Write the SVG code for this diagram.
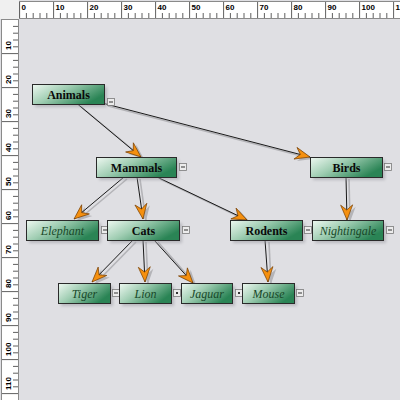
<svg xmlns="http://www.w3.org/2000/svg" width="400" height="400" viewBox="0 0 400 400">
<defs>
<style>
.rul{fill:#ffffff;stroke:#8a8a8a;stroke-width:1}
.maj{stroke:#606060;stroke-width:1;fill:none}
.min{stroke:#606060;stroke-width:1;fill:none}
.rl{font-family:"Liberation Sans",Arial,sans-serif;font-size:8px;font-weight:bold;fill:#000}
.box{fill:url(#g);stroke:#2a2a2a;stroke-width:1}
.shd{fill:#9a9aa0;opacity:0.55;filter:url(#blur)}
.pt{font-family:"Liberation Serif","Times New Roman",serif;font-size:12px;font-weight:bold;fill:#0a0a0a;text-anchor:middle}
.lt{font-family:"Liberation Serif","Times New Roman",serif;font-size:12px;font-style:italic;fill:#184828;text-anchor:middle}
.tg{fill:#ececec;stroke:#7a7a7a;stroke-width:0.8}
.tgm{stroke:#333;stroke-width:1}
.ln{stroke:#1a1a1a;stroke-width:1;fill:none;marker-end:url(#ah)}
.ls{stroke:#b4b4b8;stroke-width:1.6;fill:none;marker-end:url(#ahs)}
</style>
<linearGradient id="g" x1="0" y1="0" x2="1" y2="0.5">
<stop offset="0" stop-color="#eef8f1"/>
<stop offset="0.45" stop-color="#9fcdb2"/>
<stop offset="1" stop-color="#2a8455"/>
</linearGradient>
<filter id="blur" x="-20%" y="-40%" width="140%" height="180%"><feGaussianBlur stdDeviation="1.5"/></filter>
<marker id="ah" viewBox="-17 -8 18 16" refX="0" refY="0" markerWidth="18" markerHeight="16" markerUnits="userSpaceOnUse" orient="auto">
<path d="M0,0 L-15,-6 L-10,0 L-15,6 Z" fill="#f5900f" stroke="#7a4000" stroke-width="0.7" stroke-linejoin="round"/>
</marker>
<marker id="ahs" viewBox="-17 -8 18 16" refX="0" refY="0" markerWidth="18" markerHeight="16" markerUnits="userSpaceOnUse" orient="auto">
<path d="M0,0 L-15,-6 L-10,0 L-15,6 Z" fill="#b4b4b8"/>
</marker>
</defs>

<rect x="0" y="0" width="400" height="400" fill="#dfdfe3"/>

<g id="rulers">
<rect x="0" y="0" width="19" height="19" fill="#f0f0f0"/>
<rect class="rul" x="19.5" y="1.5" width="381" height="17"/>
<rect class="rul" x="1.5" y="19.5" width="17" height="381"/>
<path class="maj" d="M19.6,2V18M53.6,2V18M87.6,2V18M121.6,2V18M155.6,2V18M189.6,2V18M223.6,2V18M257.6,2V18M291.6,2V18M325.6,2V18M359.6,2V18M393.6,2V18"/>
<path class="min" d="M26.4,13V18M33.2,13V18M40,13V18M46.8,13V18M60.4,13V18M67.2,13V18M74,13V18M80.8,13V18M94.4,13V18M101.2,13V18M108,13V18M114.8,13V18M128.4,13V18M135.2,13V18M142,13V18M148.8,13V18M162.4,13V18M169.2,13V18M176,13V18M182.8,13V18M196.4,13V18M203.2,13V18M210,13V18M216.8,13V18M230.4,13V18M237.2,13V18M244,13V18M250.8,13V18M264.4,13V18M271.2,13V18M278,13V18M284.8,13V18M298.4,13V18M305.2,13V18M312,13V18M318.8,13V18M332.4,13V18M339.2,13V18M346,13V18M352.8,13V18M366.4,13V18M373.2,13V18M380,13V18M386.8,13V18"/>
<path class="maj" d="M2,53.6H18M2,87.6H18M2,121.6H18M2,155.6H18M2,189.6H18M2,223.6H18M2,257.6H18M2,291.6H18M2,325.6H18M2,359.6H18M2,393.6H18"/>
<path class="min" d="M13,26.4H18M13,33.2H18M13,40H18M13,46.8H18M13,60.4H18M13,67.2H18M13,74H18M13,80.8H18M13,94.4H18M13,101.2H18M13,108H18M13,114.8H18M13,128.4H18M13,135.2H18M13,142H18M13,148.8H18M13,162.4H18M13,169.2H18M13,176H18M13,182.8H18M13,196.4H18M13,203.2H18M13,210H18M13,216.8H18M13,230.4H18M13,237.2H18M13,244H18M13,250.8H18M13,264.4H18M13,271.2H18M13,278H18M13,284.8H18M13,298.4H18M13,305.2H18M13,312H18M13,318.8H18M13,332.4H18M13,339.2H18M13,346H18M13,352.8H18M13,366.4H18M13,373.2H18M13,380H18M13,386.8H18"/>
<text class="rl" x="21.5" y="9.5">0</text>
<text class="rl" x="55.5" y="9.5">10</text>
<text class="rl" x="89.5" y="9.5">20</text>
<text class="rl" x="123.5" y="9.5">30</text>
<text class="rl" x="157.5" y="9.5">40</text>
<text class="rl" x="191.5" y="9.5">50</text>
<text class="rl" x="225.5" y="9.5">60</text>
<text class="rl" x="259.5" y="9.5">70</text>
<text class="rl" x="293.5" y="9.5">80</text>
<text class="rl" x="327.5" y="9.5">90</text>
<text class="rl" x="361.5" y="9.5">100</text>
<text class="rl" x="395.5" y="9.5">110</text>
<text class="rl" transform="translate(10.5,50) rotate(-90)">10</text>
<text class="rl" transform="translate(10.5,84) rotate(-90)">20</text>
<text class="rl" transform="translate(10.5,118) rotate(-90)">30</text>
<text class="rl" transform="translate(10.5,152) rotate(-90)">40</text>
<text class="rl" transform="translate(10.5,186) rotate(-90)">50</text>
<text class="rl" transform="translate(10.5,220) rotate(-90)">60</text>
<text class="rl" transform="translate(10.5,254) rotate(-90)">70</text>
<text class="rl" transform="translate(10.5,288) rotate(-90)">80</text>
<text class="rl" transform="translate(10.5,322) rotate(-90)">90</text>
<text class="rl" transform="translate(10.5,356) rotate(-90)">100</text>
<text class="rl" transform="translate(10.5,390) rotate(-90)">110</text>
</g>

<g id="connectors">
<path class="ls" d="M80,106 L144,159"/>
<path class="ls" d="M108,106 L313,159"/>
<path class="ls" d="M127,179 L77,221"/>
<path class="ls" d="M140,179 L146,221"/>
<path class="ls" d="M160,179 L250,222"/>
<path class="ls" d="M349,179 L350,222"/>
<path class="ls" d="M136,242 L95,284"/>
<path class="ls" d="M146,242 L148,284"/>
<path class="ls" d="M158,242 L196,285"/>
<path class="ls" d="M269,242 L271,284"/>
<path class="ln" d="M77.5,104 L141,157"/>
<path class="ln" d="M104,103.5 L310,157"/>
<path class="ln" d="M124,177 L74,219"/>
<path class="ln" d="M137,177 L143,219"/>
<path class="ln" d="M157,177 L247,220"/>
<path class="ln" d="M346,177 L347,220"/>
<path class="ln" d="M133,240 L92,282"/>
<path class="ln" d="M143,240 L145,282"/>
<path class="ln" d="M154,240 L193,283"/>
<path class="ln" d="M265,240 L268,282"/>
</g>

<g id="n-animals">
<rect class="shd" x="35" y="87" width="72" height="20"/>
<rect class="box" x="32.5" y="84.5" width="72" height="20"/>
<text class="pt" x="68.5" y="98.5">Animals</text>
<rect class="tg" x="107.5" y="98.5" width="7" height="7"/><path class="tgm" d="M109,102H113"/>
</g>
<g id="n-mammals">
<rect class="shd" x="99" y="160" width="80" height="20"/>
<rect class="box" x="96.5" y="157.5" width="80" height="20"/>
<text class="pt" x="136.5" y="171.5">Mammals</text>
<rect class="tg" x="179.5" y="163.5" width="7" height="7"/><path class="tgm" d="M181,167H185"/>
</g>
<g id="n-birds">
<rect class="shd" x="313" y="160" width="72" height="20"/>
<rect class="box" x="310.5" y="157.5" width="72" height="20"/>
<text class="pt" x="346.5" y="171.5">Birds</text>
<rect class="tg" x="384.5" y="163.5" width="7" height="7"/><path class="tgm" d="M386,167H390"/>
</g>
<g id="n-elephant">
<rect class="shd" x="29" y="223" width="72" height="20"/>
<rect class="box" x="26.5" y="220.5" width="72" height="20"/>
<text class="lt" x="62.5" y="234.5">Elephant</text>
<rect class="tg" x="101.5" y="226.5" width="7" height="7"/><path class="tgm" d="M103,230H107"/>
</g>
<g id="n-cats">
<rect class="shd" x="110" y="223" width="72" height="20"/>
<rect class="box" x="107.5" y="220.5" width="72" height="20"/>
<text class="pt" x="143.5" y="234.5">Cats</text>
<rect class="tg" x="182.5" y="226.5" width="7" height="7"/><path class="tgm" d="M184,230H188"/>
</g>
<g id="n-rodents">
<rect class="shd" x="233" y="223" width="72" height="20"/>
<rect class="box" x="230.5" y="220.5" width="72" height="20"/>
<text class="pt" x="266.5" y="234.5">Rodents</text>
<rect class="tg" x="304.5" y="226.5" width="7" height="7"/><path class="tgm" d="M306,230H310"/>
</g>
<g id="n-nightingale">
<rect class="shd" x="315" y="223" width="71" height="20"/>
<rect class="box" x="312.5" y="220.5" width="71" height="20"/>
<text class="lt" x="348" y="234.5">Nightingale</text>
<rect class="tg" x="386.5" y="226.5" width="7" height="7"/><path class="tgm" d="M388,230H392"/>
</g>
<g id="n-tiger">
<rect class="shd" x="61" y="286" width="52" height="20"/>
<rect class="box" x="58.5" y="283.5" width="52" height="20"/>
<text class="lt" x="84.5" y="297.5">Tiger</text>
<rect class="tg" x="112.5" y="289.5" width="7" height="7"/><path class="tgm" d="M114,293H118"/>
</g>
<g id="n-lion">
<rect class="shd" x="122" y="286" width="52" height="20"/>
<rect class="box" x="119.5" y="283.5" width="52" height="20"/>
<text class="lt" x="145.5" y="297.5">Lion</text>
<rect class="tg" x="173.5" y="289.5" width="7" height="7"/><rect x="176" y="292" width="2" height="2" fill="#333"/>
</g>
<g id="n-jaguar">
<rect class="shd" x="184" y="286" width="51" height="20"/>
<rect class="box" x="181.5" y="283.5" width="51" height="20"/>
<text class="lt" x="207" y="297.5">Jaguar</text>
<rect class="tg" x="235.5" y="289.5" width="7" height="7"/><rect x="238" y="292" width="2" height="2" fill="#333"/>
</g>
<g id="n-mouse">
<rect class="shd" x="245" y="286" width="52" height="20"/>
<rect class="box" x="242.5" y="283.5" width="52" height="20"/>
<text class="lt" x="268.5" y="297.5">Mouse</text>
<rect class="tg" x="296.5" y="289.5" width="7" height="7"/><path class="tgm" d="M298,293H302"/>
</g>
</svg>
